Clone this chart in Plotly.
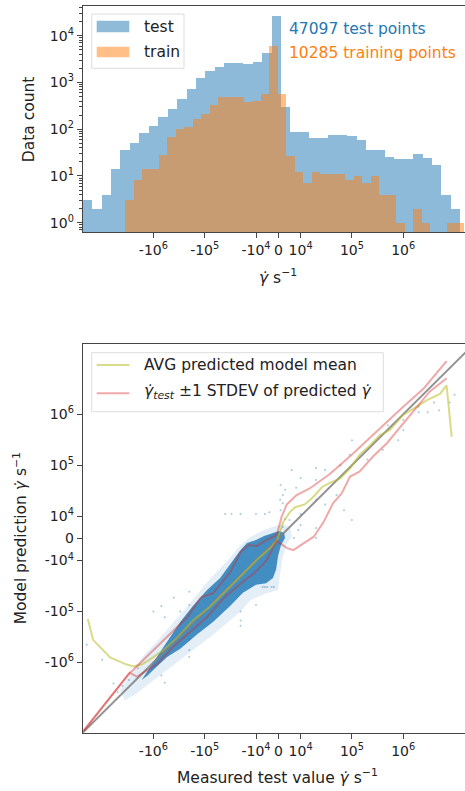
import numpy as np
import plotly.graph_objects as go

# ---------------- data (values in s^-1 / counts) ----------------
test_counts = [3, 2, 4, 14, 36, 51, 84, 117, 179, 270, 435, 723, 1222, 1754, 2138, 2600, 2600, 2477, 2735, 4327,
               26000, 303, 86, 86, 65, 65, 77, 77, 71, 60, 36, 36, 25, 23, 23, 29, 24, 17, 4, 2]
train_counts = [3, 8, 14, 14, 28, 69, 102, 111, 168, 208, 329, 480, 480, 480, 387, 398, 556, 5900, 556, 27,
                12, 7, 12, 11, 11, 11, 8, 10, 7, 10, 4, 4, 1, 0, 2, 1, 0, 0, 1, 1]
test_range = [-2.39e7, 1.3e7]
train_range = [-3.56e6, 1.53e7]
axis_limit = 2.39e7
tick_values = [-1e6, -1e5, -1e4, 0, 1e4, 1e5, 1e6]
tick_labels = ["-10<sup>6</sup>", "-10<sup>5</sup>", "-10<sup>4</sup>", "0",
               "10<sup>4</sup>", "10<sup>5</sup>", "10<sup>6</sup>"]
count_ticks = [1, 10, 100, 1000, 10000]
count_labels = ["10<sup>0</sup>", "10<sup>1</sup>", "10<sup>2</sup>", "10<sup>3</sup>", "10<sup>4</sup>"]

avg_x = [-1.9e7, -1.5e7, -7e6, -3.3e6, -2.4e6, -1.7e6, -1.2e6, -6.4e5, -3.5e5, -1.7e5, -7.9e4, -4.3e4,
         -2e4, -9.7e3, -3e3, -5.8e2, 2.2e3, 5.2e3, 7.5e3, 1.2e4, 1.7e4, 2.6e4, 3.7e4, 5.9e4, 9.2e4, 1.4e5,
         2.3e5, 3.5e5, 5.5e5, 1e6, 1.8e6, 2.9e6, 5.2e6, 7e6, 8.8e6]
avg_y = [-1.4e5, -3.6e5, -8e5, -1.1e6, -1.2e6, -1.1e6, -8.9e5, -5.7e5, -3.3e5, -1.5e5, -8.1e4, -4.4e4,
         -2.1e4, -9.8e3, -3.8e3, -7.4e2, 7.4e3, 1.2e4, 1.5e4, 1.7e4, 2.3e4, 3.7e4, 4.5e4, 5.5e4, 8.7e4, 1.6e5,
         2.5e5, 3.9e5, 4.9e5, 9.7e5, 1.4e6, 1.9e6, 2.5e6, 3.7e6, 3.6e5]
up_x = [-2.3e7, -2.9e6, -2.5e6, -8.6e5, -4.1e5, -2.2e5, -1.2e5, -1.1e5, -6.9e4, -3.2e4, -2e4, -1.4e4, -9.7e3,
        -5.2e3, -7.2e2, 1.5e3, 3.8e3, 8.2e3, 1.5e4, 2.1e4, 3.7e4, 9.2e4, 2.3e5, 4.8e5, 1e6, 2.5e6, 7e6]
up_y = [-2.2e7, -1.6e6, -1.4e6, -4.9e5, -2.3e5, -1.3e5, -5.4e4, -5.1e4, -4.4e4, -1.7e4, -6.2e3, -3e3, -3.5e3,
        -7.4e2, 1.5e3, 9.8e3, 1.7e4, 2.6e4, 3.5e4, 4.4e4, 6.7e4, 1.5e5, 3.6e5, 7.1e5, 1.4e6, 3.2e6, 1.1e7]
lo_x = [-2.3e7, -2.9e6, -2.1e6, -8.6e5, -4.1e5, -1.9e5, -9.1e4, -4.3e4, -1.8e4, -1.1e4, -5.2e3, -7.2e2, 7.6e2,
        3.9e3, 6.7e3, 1.1e4, 1.8e4, 2.8e4, 4.3e4, 6.3e4, 9.2e4, 1.4e5, 2.6e5, 4.8e5, 1e6, 1.8e6, 3.3e6, 7e6]
lo_y = [-2.2e7, -1.6e6, -1.9e6, -1.1e6, -4.9e5, -2.5e5, -1.3e5, -5.5e4, -2.6e4, -1.8e4, -9.8e3, -1.2e3, -2.2e3,
        -4.4e3, -5.3e3, -2.5e3, 7.4e2, 7.4e3, 1.8e4, 2.8e4, 6e4, 7.5e4, 1.5e5, 2.7e5, 6.6e5, 1.3e6, 2.8e6, 5.1e6]
# outline of the dense core of the test-point cloud
core_x = [-1.2e6, -7.4e5, -4.7e5, -3e5, -1.7e5, -9e4, -5e4, -2.8e4, -2e4, -1.5e4, -1e4, -6.4e3, -2.8e3, 3.1e2,
          2.6e3, 3e3, 1.2e3, -1.3e2, -1e3, -2.4e3, -5.5e3, -1e4, -1.8e4, -3.2e4, -6.9e4, -1.4e5, -3e5, -5.4e5,
          -9.3e5, -1.3e6, -1.7e6]
core_y = [-1.3e6, -6.2e5, -3e5, -1.6e5, -7.8e4, -3.8e4, -2.2e4, -9.8e3, -5.2e3, -2.1e3, -7.4e2, 1.1e3, 2.4e3,
          3.3e3, 2.4e3, 1.6e2, -3e3, -8e3, -1.5e4, -2.2e4, -2.8e4, -3e4, -4.3e4, -7.8e4, -1.6e5, -2.8e5, -5.4e5,
          -7.8e5, -1.3e6, -1.8e6, -2.2e6]
# outline of the sparser halo around it
halo_x = [-4.5e6, -2.9e6, -1.5e6, -7.4e5, -3.8e5, -1.9e5, -9.9e4, -6.3e4, -3.5e4, -2e4, -1.3e4, -7.3e3, -2.8e3,
          1.7e3, 5.2e3, 6.1e3, 3.5e3, 1.7e3, 7.6e2, -1.3e2, -6e3, -1.3e4, -2e4, -4e4, -7.9e4, -1.5e5, -3e5, -5.9e5,
          -1.2e6, -2.3e6, -3.6e6]
halo_y = [-3.5e6, -1.8e6, -7.1e5, -3.3e5, -1.5e5, -6.8e4, -3e4, -1.8e4, -9.8e3, -3e3, 6.1e2, 3.3e3, 5.1e3, 6.5e3,
          5.1e3, 1.1e3, -3e3, -9.8e3, -1.9e4, -3.8e4, -4.5e4, -6e4, -1e5, -1.8e5, -3.2e5, -5.2e5, -8.9e5, -1.5e6,
          -2.6e6, -4.3e6, -5.5e6]
# scattered outlying test points
pts_x = [1e3, 2e3, 2e3, 1e3, 3e3, 2e3, 3e3, 8e2, 6e3, 1e4, 2e4, 2e4, 3e4, 8e3, 1e5, 2e5, 4e5, 8e5, 1e6, 2e6,
         2e6, 3e6, 4e6, 9e4, 6e4, 5e5, 1e6, 5e3, 9e3, 1e4, 2e4, 2e4, 1e4, 7e3, -4e4, -3e4, -2e4, -1e4, -6e3, -4e3,
         -7e3, -6e3, -5e3, -3e3, -2e3, -2e4, -2e4, -2e4, -1e4, -4e5, -2e5, -2e5, -3e5, -2e6, -3e6, -7e5, -6e5, -4e6,
         -5e6, -6e6, -2e5, -2e5, -2e5, -1e6, -7e5, -6e5, -2e7, -1e7, 2e4, 3e4, 5e4, 7e4, 1e5, 5e6, 8e6, 1e7]
pts_y = [4.1e4, 2.6e4, 1.8e4, 1.3e4, 8.7e3, 5.1e3, 3.3e4, 2.1e4, 8.1e4, 5.6e4, 8.8e4, 5.1e4, 8.1e4, 3.6e4, 3.1e5,
         1.3e5, 2e5, 3.1e5, 4.9e5, 1.1e6, 1.4e6, 1.1e6, 1.7e6, 1.6e5, 1e5, 6.1e5, 7.7e5, 8.3e3, 3.8e3, 6e3, 1.6e2,
         4.7e3, 1.1e4, 1.6e2, 1.1e4, 1.1e4, 1.1e4, 1.1e4, 1.1e4, 1.2e4, -3.3e4, -3.3e4, -3.3e4, -3.3e4, -3.3e4,
         -1e5, -1.5e5, -1.9e5, -7.5e4, -5.4e4, -7.5e4, -4.1e4, -1e5, -1.3e6, -2.2e6, -1.8e6, -2.5e6, -2.9e6, -3.8e6,
         -2.6e6, -3.6e5, -5.7e5, -7.8e5, -1e5, -7.8e4, -1.3e5, -4.5e5, -8.9e5, 2.1e4, 1.7e4, 2.6e4, 1.3e4, 8.3e3,
         1.2e6, 1.7e6, 2.4e6]
identity = [-axis_limit, axis_limit]

# ---------------- symmetric-log scale ----------------
LIN_T = 1e4
LIN_W = 0.435
def symlog(v):
    v = np.asarray(v, dtype=float)
    a = np.abs(v)
    return np.where(a <= LIN_T, LIN_W * v / LIN_T,
                    np.sign(v) * (LIN_W + np.log10(np.maximum(a, LIN_T) / LIN_T)))

W, Hh = 465, 791
def px(x): return x / W
def py(y): return 1 - y / Hh

BLUE = "#1f77b4"; ORANGE = "#ff7f0e"
FONT = "DejaVu Sans"
TXT = "#222222"
AX = "#444444"

fig = go.Figure()

def hist_trace(counts, rng, color):
    lo, hi = symlog(rng)
    edges = np.linspace(lo, hi, len(counts) + 1)
    centers = (edges[:-1] + edges[1:]) / 2
    w = edges[1] - edges[0]
    y = [c if c > 0 else None for c in counts]
    return go.Bar(x=centers, y=y, width=w, marker=dict(color=color, line=dict(width=0)),
                  opacity=0.5, xaxis="x", yaxis="y", showlegend=False)

fig.add_trace(hist_trace(test_counts, test_range, BLUE))
fig.add_trace(hist_trace(train_counts, train_range, ORANGE))

fig.add_trace(go.Scatter(x=symlog(halo_x), y=symlog(halo_y), fill="toself", mode="lines",
                         line=dict(width=0), fillcolor="rgba(31,119,180,0.12)",
                         xaxis="x2", yaxis="y2", showlegend=False, hoverinfo="skip"))
fig.add_trace(go.Scatter(x=symlog(core_x), y=symlog(core_y), fill="toself", mode="lines",
                         line=dict(width=0), fillcolor="rgba(31,119,180,0.82)",
                         xaxis="x2", yaxis="y2", showlegend=False, hoverinfo="skip"))
fig.add_trace(go.Scatter(x=symlog(pts_x), y=symlog(pts_y), mode="markers",
                         marker=dict(size=2, color="rgba(31,119,180,0.4)"),
                         xaxis="x2", yaxis="y2", showlegend=False))
fig.add_trace(go.Scatter(x=symlog(identity), y=symlog(identity), mode="lines",
                         line=dict(color="rgba(128,128,128,0.85)", width=2),
                         xaxis="x2", yaxis="y2", showlegend=False))
fig.add_trace(go.Scatter(x=symlog(avg_x), y=symlog(avg_y), mode="lines",
                         line=dict(color="rgba(188,189,34,0.55)", width=2),
                         xaxis="x2", yaxis="y2", showlegend=False))
for xs, ys in [(up_x, up_y), (lo_x, lo_y)]:
    fig.add_trace(go.Scatter(x=symlog(xs), y=symlog(ys), mode="lines",
                             line=dict(color="rgba(214,39,40,0.4)", width=2),
                             xaxis="x2", yaxis="y2", showlegend=False))

lim = float(symlog(axis_limit))
xr = [-lim, -lim + (W - 82.7) / 51.3]
tickfont = dict(family=FONT, size=14, color=TXT)
common_x = dict(range=xr, tickmode="array", tickvals=symlog(tick_values), ticktext=tick_labels,
                showline=True, linecolor=AX, linewidth=1, mirror=True, ticks="outside",
                ticklen=5, tickwidth=1, tickcolor=AX, showgrid=False, zeroline=False,
                tickfont=tickfont, automargin=False, domain=[px(82.7), 1])

minor_vals = [m * 10.0 ** k for k in range(-1, 5) for m in range(2, 10)]
fig.update_layout(
    width=W, height=Hh, margin=dict(l=0, r=0, t=0, b=0),
    template="none", paper_bgcolor="white", plot_bgcolor="white",
    barmode="overlay", bargap=0, showlegend=False,
    font=dict(family=FONT, size=14, color=TXT),
    xaxis=dict(common_x, anchor="y"),
    yaxis=dict(type="log", range=[-0.2053, 4.6417], domain=[py(232.3), py(5.7)], anchor="x",
               tickmode="array", tickvals=count_ticks, ticktext=count_labels,
               showline=True, linecolor=AX, linewidth=1, mirror=False, ticks="outside",
               ticklen=5, tickwidth=1, tickcolor=AX, showgrid=False, zeroline=False,
               tickfont=tickfont, automargin=False,
               minor=dict(tickmode="array", tickvals=minor_vals, ticks="outside", ticklen=3,
                          tickwidth=1, tickcolor=AX, showgrid=False)),
    xaxis2=dict(common_x, anchor="y2"),
    yaxis2=dict(range=[-lim, lim], domain=[py(732.7), py(344)], anchor="x2",
                tickmode="array", tickvals=symlog(tick_values), ticktext=tick_labels,
                showline=True, linecolor=AX, linewidth=1, mirror=False, ticks="outside",
                ticklen=5, tickwidth=1, tickcolor=AX, showgrid=False, zeroline=False,
                tickfont=tickfont, automargin=False),
)

LF = dict(family=FONT, size=15.5, color=TXT)
shapes = []
annos = []
def rect(x0, y0, x1, y1, fill, line="rgba(0,0,0,0)", lw=0):
    shapes.append(dict(type="rect", xref="paper", yref="paper", x0=px(x0), x1=px(x1),
                       y0=py(y1), y1=py(y0), fillcolor=fill, line=dict(color=line, width=lw),
                       layer="above"))
def hline(x0, x1, y, color):
    shapes.append(dict(type="line", xref="paper", yref="paper", x0=px(x0), x1=px(x1),
                       y0=py(y), y1=py(y), line=dict(color=color, width=2), layer="above"))
def text(x, y, s, xanchor="left", font=LF, angle=0):
    annos.append(dict(xref="paper", yref="paper", x=px(x), y=py(y), text=s, showarrow=False,
                      xanchor=xanchor, yanchor="middle", font=font, textangle=angle))

rect(91.7, 14, 184, 68.3, "rgba(255,255,255,0.8)", "#dddddd", 1)
rect(96.7, 20.7, 129.3, 32.3, "rgba(31,119,180,0.5)")
rect(96.7, 46.7, 129.3, 57.3, "rgba(255,127,14,0.5)")
text(142.3, 26.5, "test")
text(142.3, 52, "train")
text(286.7, 28.7, "47097 test points", font=dict(family=FONT, size=15.5, color=BLUE))
text(286.7, 53.3, "10285 training points", font=dict(family=FONT, size=15.5, color=ORANGE))
rect(91.7, 352.7, 383.3, 411.7, "rgba(255,255,255,0.8)", "#dddddd", 1)
hline(96.7, 129.3, 365, "rgba(188,189,34,0.55)")
hline(96.7, 129.3, 393.3, "rgba(214,39,40,0.4)")
text(141.7, 365, "AVG predicted model mean")
text(141.7, 392, "<i>γ̇</i><sub><i>test</i></sub> ±1 STDEV of predicted <i>γ̇</i>")
text(278, 276.7, "<i>γ̇</i> s<sup>−1</sup>", xanchor="center")
text(29.3, 119, "Data count", xanchor="center", angle=-90)
text(277, 776.7, "Measured test value <i>γ̇</i> s<sup>−1</sup>", xanchor="center")
text(20, 538.35, "Model prediction <i>γ̇</i> s<sup>−1</sup>", xanchor="center", angle=-90)

fig.update_layout(shapes=shapes, annotations=annos)
fig.write_html("out.html", config={"displayModeBar": False, "staticPlot": True},
               post_script="document.body.style.margin='0px';document.body.style.overflow='hidden';")
